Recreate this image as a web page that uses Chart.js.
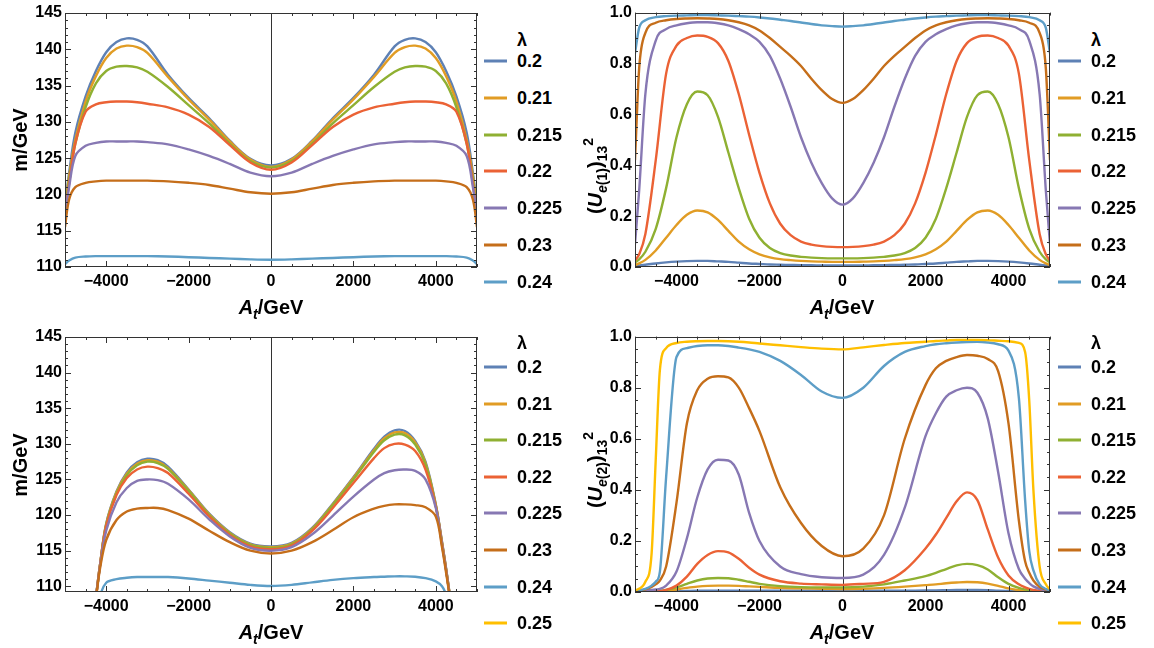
<!DOCTYPE html>
<html>
<head>
<meta charset="utf-8">
<script src="https://cdn.jsdelivr.net/npm/chart.js@4.4.0/dist/chart.umd.min.js"></script>
<style>
  body { margin: 0; background: #fff; width: 1154px; height: 648px; overflow: hidden; position: relative;
         font-family: "Liberation Sans", Arial, sans-serif; font-weight: bold; color: #000; }
  .panel { position: absolute; }
  .panel canvas { display: block; }
  .xt, .yt { position: absolute; font-size: 20px; white-space: nowrap; line-height: 1; }
  .xt { transform: translate(-50%, -50%); }
  .yt { transform: translate(-50%, -50%) rotate(-90deg); }
  sub { font-size: 0.7em; vertical-align: -0.35em; line-height: 0; }
  sup { font-size: 0.7em; vertical-align: 0.65em; line-height: 0; }
  .legend { position: absolute; font-size: 18px; }
  .legend .ttl { position: absolute; transform: translateY(-50%); }
  .legend .row { position: absolute; transform: translateY(-50%); white-space: nowrap; }
  .legend .sw { position: absolute; height: 3px; width: 23px; top: 50%; margin-top: -1.5px; }
</style>
</head>
<body>

<div class="panel" style="left:0;top:0"><canvas id="cA" width="480" height="300"></canvas></div>
<div class="panel" style="left:560px;top:0"><canvas id="cB" width="500" height="300"></canvas></div>
<div class="panel" style="left:0;top:324px"><canvas id="cC" width="480" height="300"></canvas></div>
<div class="panel" style="left:560px;top:324px"><canvas id="cD" width="500" height="300"></canvas></div>

<div class="yt" style="left:20px;top:140px">m/GeV</div>
<div class="yt" style="left:20px;top:465px">m/GeV</div>
<div class="yt" style="left:595px;top:176px">(<i>U</i><sub><i>e</i>(1)</sub>)<sub>13</sub><sup>2</sup></div>
<div class="yt" style="left:595px;top:470px">(<i>U</i><sub><i>e</i>(2)</sub>)<sub>13</sub><sup>2</sup></div>

<div class="xt" style="left:271px;top:307px"><i>A</i><sub><i>t</i></sub>/GeV</div>
<div class="xt" style="left:842px;top:307px"><i>A</i><sub><i>t</i></sub>/GeV</div>
<div class="xt" style="left:271px;top:632px"><i>A</i><sub><i>t</i></sub>/GeV</div>
<div class="xt" style="left:842px;top:632px"><i>A</i><sub><i>t</i></sub>/GeV</div>

<div class="legend" id="lA" style="left:484px;top:0"></div>
<div class="legend" id="lB" style="left:1058px;top:0"></div>
<div class="legend" id="lC" style="left:484px;top:324px"></div>
<div class="legend" id="lD" style="left:1058px;top:324px"></div>

<script>
// ---------- data ----------

const LINE_COLORS = ['#5E81B5', '#E19C24', '#8FB032', '#EB6235', '#8778B3', '#C56E1A', '#5D9EC7', '#FFBF00'];
const LAMBDA_TOP = ['0.2', '0.21', '0.215', '0.22', '0.225', '0.23', '0.24'];
const LAMBDA_BOTTOM = ['0.2', '0.21', '0.215', '0.22', '0.225', '0.23', '0.24', '0.25'];

const X_TICKS = [-4000, -2000, 0, 2000, 4000];
const MASS_TICKS = [110, 115, 120, 125, 130, 135, 140, 145];
const MIX_TICKS = [0, 0.2, 0.4, 0.6, 0.8, 1.0];

// top left: m/GeV vs A_t (first set)
const AT_A = [-5000, -4900, -4750, -4500, -4250, -4000, -3750, -3500, -3250, -3000, -2500, -2000, -1500, -1000, -500, 0,
              500, 1000, 1500, 2000, 2500, 3000, 3250, 3500, 3750, 4000, 4250, 4500, 4750, 4900, 5000];
const MASS_A = [
  [118.5, 123.0, 128.5, 133.5, 137.0, 139.6, 141.0, 141.5, 141.3, 140.4, 136.5, 133.3, 130.5, 127.4, 124.9, 124.0,
   124.9, 127.4, 130.5, 133.3, 136.5, 140.4, 141.3, 141.5, 141.0, 139.6, 137.0, 133.5, 128.5, 123.0, 118.5],
  [118.0, 122.5, 127.5, 132.8, 136.3, 138.8, 140.1, 140.5, 140.3, 139.5, 136.2, 133.1, 130.3, 127.3, 124.8, 123.8,
   124.8, 127.3, 130.3, 133.1, 136.2, 139.5, 140.3, 140.5, 140.1, 138.8, 136.3, 132.8, 127.5, 122.5, 118.0],
  [118.0, 122.0, 127.0, 132.0, 135.3, 137.0, 137.6, 137.7, 137.5, 136.9, 134.8, 132.3, 129.8, 127.0, 124.6, 123.7,
   124.6, 127.0, 129.8, 132.3, 134.8, 136.9, 137.5, 137.7, 137.6, 137.0, 135.3, 132.0, 127.0, 122.0, 118.0],
  [117.5, 121.5, 127.0, 131.4, 132.4, 132.7, 132.8, 132.8, 132.7, 132.5, 132.0, 131.0, 129.3, 126.8, 124.4, 123.4,
   124.4, 126.8, 129.3, 131.0, 132.0, 132.5, 132.7, 132.8, 132.8, 132.7, 132.4, 131.4, 127.0, 121.5, 117.5],
  [117.0, 121.0, 125.3, 126.7, 127.1, 127.3, 127.3, 127.3, 127.3, 127.2, 126.9, 126.2, 125.3, 124.2, 123.0, 122.5,
   123.0, 124.2, 125.3, 126.2, 126.9, 127.2, 127.3, 127.3, 127.3, 127.3, 127.1, 126.7, 125.3, 121.0, 117.0],
  [115.5, 119.3, 121.0, 121.6, 121.8, 121.9, 121.9, 121.9, 121.9, 121.9, 121.8, 121.6, 121.3, 120.8, 120.3, 120.1,
   120.3, 120.8, 121.3, 121.6, 121.8, 121.9, 121.9, 121.9, 121.9, 121.9, 121.8, 121.6, 121.0, 119.3, 115.5],
  [110.4, 110.9, 111.3, 111.45, 111.5, 111.5, 111.5, 111.5, 111.5, 111.5, 111.45, 111.35, 111.25, 111.15, 111.05, 111.0,
   111.05, 111.15, 111.25, 111.35, 111.45, 111.5, 111.5, 111.5, 111.5, 111.5, 111.5, 111.45, 111.3, 110.9, 110.4]
];

// top right: (U_e(1))_13^2
const AT_B = [-5000, -4900, -4750, -4500, -4250, -4000, -3750, -3500, -3250, -3000, -2750, -2500, -2250, -2000, -1750,
              -1500, -1250, -1000, -750, -500, -250, 0, 250, 500, 750, 1000, 1250, 1500, 1750, 2000, 2250, 2500, 2750,
              3000, 3250, 3500, 3750, 4000, 4250, 4500, 4750, 4900, 5000];
const MIX_B = [
  [0.004, 0.006, 0.009, 0.014, 0.018, 0.021, 0.023, 0.024, 0.024, 0.022, 0.02, 0.017, 0.014, 0.012, 0.01, 0.009, 0.008, 0.007, 0.007, 0.006, 0.006, 0.006,
   0.006, 0.006, 0.007, 0.007, 0.008, 0.009, 0.01, 0.012, 0.014, 0.017, 0.02, 0.022, 0.024, 0.024, 0.023, 0.021, 0.018, 0.014, 0.009, 0.006, 0.004],
  [0.008, 0.014, 0.028, 0.065, 0.115, 0.165, 0.205, 0.222, 0.215, 0.185, 0.142, 0.1, 0.07, 0.05, 0.038, 0.031, 0.027, 0.024, 0.022, 0.021, 0.02, 0.02,
   0.02, 0.021, 0.022, 0.024, 0.027, 0.031, 0.038, 0.05, 0.07, 0.1, 0.142, 0.185, 0.215, 0.222, 0.205, 0.165, 0.115, 0.065, 0.028, 0.014, 0.008],
  [0.018, 0.03, 0.06, 0.15, 0.31, 0.51, 0.64, 0.69, 0.675, 0.59, 0.45, 0.31, 0.19, 0.115, 0.075, 0.055, 0.045, 0.04, 0.037, 0.035, 0.034, 0.034,
   0.034, 0.035, 0.037, 0.04, 0.045, 0.055, 0.075, 0.115, 0.19, 0.31, 0.45, 0.59, 0.675, 0.69, 0.64, 0.51, 0.31, 0.15, 0.06, 0.03, 0.018],
  [0.025, 0.05, 0.13, 0.42, 0.76, 0.87, 0.9, 0.91, 0.905, 0.88, 0.81, 0.68, 0.52, 0.37, 0.25, 0.17, 0.125, 0.1, 0.088, 0.082, 0.079, 0.078,
   0.079, 0.082, 0.088, 0.1, 0.125, 0.17, 0.25, 0.37, 0.52, 0.68, 0.81, 0.88, 0.905, 0.91, 0.9, 0.87, 0.76, 0.42, 0.13, 0.05, 0.025],
  [0.09, 0.3, 0.68, 0.89, 0.935, 0.95, 0.958, 0.962, 0.962, 0.958, 0.95, 0.935, 0.915, 0.885, 0.83, 0.74, 0.63, 0.51, 0.41, 0.33, 0.27, 0.245,
   0.27, 0.33, 0.41, 0.51, 0.63, 0.74, 0.83, 0.885, 0.915, 0.935, 0.95, 0.958, 0.962, 0.962, 0.958, 0.95, 0.935, 0.89, 0.68, 0.3, 0.09],
  [0.42, 0.78, 0.92, 0.96, 0.97, 0.975, 0.977, 0.978, 0.977, 0.975, 0.97, 0.962, 0.95, 0.93, 0.9, 0.865, 0.83, 0.79, 0.74, 0.695, 0.66, 0.645,
   0.66, 0.695, 0.74, 0.79, 0.83, 0.865, 0.9, 0.93, 0.95, 0.962, 0.97, 0.975, 0.977, 0.978, 0.977, 0.975, 0.97, 0.96, 0.92, 0.78, 0.42],
  [0.84, 0.94, 0.97, 0.982, 0.986, 0.988, 0.989, 0.99, 0.99, 0.989, 0.988, 0.986, 0.984, 0.981, 0.977, 0.972, 0.967, 0.961, 0.955, 0.95, 0.947, 0.945,
   0.947, 0.95, 0.955, 0.961, 0.967, 0.972, 0.977, 0.981, 0.984, 0.986, 0.988, 0.989, 0.99, 0.99, 0.989, 0.988, 0.986, 0.982, 0.97, 0.94, 0.84]
];

// bottom left: m/GeV vs A_t (second set)
const AT_C = [-4500, -4250, -4150, -4000, -3750, -3500, -3250, -3000, -2750, -2500, -2000, -1500, -1000, -500, 0,
              500, 1000, 1500, 2000, 2500, 2750, 3000, 3250, 3500, 3750, 4000, 4150, 4250, 4350, 4500];
const MASS_C = [
  [99, 108.5, 113.0, 118.8, 123.3, 126.0, 127.4, 127.9, 127.7, 126.8, 123.6, 120.2, 117.6, 116.0, 115.6,
   116.1, 118.2, 121.6, 125.3, 129.3, 131.0, 131.9, 131.8, 130.4, 127.5, 121.5, 116.3, 112.5, 108.3, 101],
  [99, 108.5, 113.0, 118.7, 123.2, 125.8, 127.2, 127.7, 127.5, 126.6, 123.5, 120.1, 117.5, 115.9, 115.5,
   116.0, 118.1, 121.5, 125.2, 129.1, 130.8, 131.6, 131.5, 130.2, 127.3, 121.4, 116.2, 112.4, 108.2, 101],
  [99, 108.5, 113.0, 118.6, 123.0, 125.6, 127.0, 127.5, 127.3, 126.5, 123.4, 120.0, 117.4, 115.8, 115.4,
   115.9, 118.0, 121.4, 125.0, 128.9, 130.5, 131.3, 131.2, 129.9, 127.1, 121.3, 116.1, 112.4, 108.2, 101],
  [99, 108.5, 113.0, 118.5, 122.8, 125.2, 126.4, 126.8, 126.6, 125.9, 123.0, 119.8, 117.2, 115.6, 115.2,
   115.7, 117.8, 121.0, 124.5, 128.0, 129.4, 130.0, 129.9, 129.0, 126.4, 121.2, 116.0, 112.3, 108.2, 101],
  [99, 108.5, 112.8, 117.8, 121.8, 123.8, 124.8, 125.0, 124.9, 124.4, 122.2, 119.4, 117.0, 115.4, 115.0,
   115.5, 117.3, 119.9, 122.6, 125.0, 125.9, 126.3, 126.4, 126.2, 125.0, 121.0, 115.8, 112.2, 108.1, 101],
  [99, 108.3, 112.5, 116.5, 119.3, 120.5, 120.9, 121.0, 121.0, 120.7, 119.5, 117.8, 116.2, 115.0, 114.6,
   115.0, 116.2, 117.9, 119.7, 120.9, 121.3, 121.5, 121.5, 121.4, 121.1, 119.8, 115.5, 111.9, 108.0, 101],
  [96, 103, 108.5, 110.5, 111.0, 111.2, 111.3, 111.3, 111.3, 111.3, 111.1, 110.8, 110.5, 110.2, 110.05,
   110.2, 110.55, 110.9, 111.15, 111.3, 111.35, 111.4, 111.4, 111.35, 111.15, 110.7, 110.0, 108.8, 106, 100]
];

// bottom right: (U_e(2))_13^2
const AT_D = [-5000, -4750, -4600, -4500, -4400, -4250, -4000, -3750, -3500, -3250, -3000, -2750, -2500, -2250, -2000,
              -1500, -1000, -500, 0, 500, 1000, 1500, 2000, 2250, 2500, 2750, 3000, 3250, 3500, 3750, 4000,
              4250, 4400, 4500, 4600, 4750, 4900, 5000];
const MIX_D = [
  [0.001, 0.001, 0.002, 0.002, 0.002, 0.003, 0.003, 0.004, 0.005, 0.005, 0.005, 0.005, 0.005, 0.005, 0.005, 0.005, 0.005, 0.005, 0.005,
   0.005, 0.005, 0.005, 0.006, 0.006, 0.007, 0.008, 0.008, 0.008, 0.007, 0.005, 0.004, 0.003, 0.002, 0.002, 0.001, 0.001, 0.001, 0.001],
  [0.001, 0.002, 0.002, 0.003, 0.003, 0.005, 0.01, 0.016, 0.021, 0.024, 0.025, 0.025, 0.024, 0.022, 0.02, 0.016, 0.014, 0.013, 0.012,
   0.013, 0.016, 0.021, 0.027, 0.03, 0.034, 0.037, 0.039, 0.038, 0.033, 0.024, 0.014, 0.007, 0.005, 0.004, 0.003, 0.002, 0.001, 0.001],
  [0.001, 0.002, 0.003, 0.004, 0.005, 0.008, 0.018, 0.032, 0.045, 0.053, 0.055, 0.054, 0.048, 0.04, 0.032, 0.023, 0.019, 0.018, 0.018,
   0.021, 0.03, 0.045, 0.062, 0.075, 0.09, 0.104, 0.11, 0.105, 0.088, 0.058, 0.032, 0.016, 0.01, 0.007, 0.005, 0.003, 0.002, 0.001],
  [0.001, 0.002, 0.003, 0.004, 0.004, 0.008, 0.025, 0.06, 0.11, 0.145, 0.16, 0.155, 0.13, 0.095, 0.068, 0.042, 0.033, 0.03, 0.028,
   0.032, 0.04, 0.085, 0.17, 0.225, 0.29, 0.355, 0.39, 0.36, 0.245, 0.135, 0.065, 0.03, 0.018, 0.012, 0.008, 0.004, 0.002, 0.002],
  [0.002, 0.005, 0.008, 0.01, 0.012, 0.025, 0.08, 0.21, 0.37, 0.48, 0.518, 0.515, 0.46, 0.31, 0.2, 0.1, 0.07, 0.058, 0.055,
   0.068, 0.145, 0.33, 0.61, 0.7, 0.765, 0.79, 0.8, 0.78, 0.68, 0.47, 0.23, 0.09, 0.052, 0.035, 0.022, 0.012, 0.006, 0.004],
  [0.003, 0.01, 0.02, 0.03, 0.045, 0.1, 0.35, 0.66, 0.79, 0.835, 0.845, 0.84, 0.8, 0.72, 0.63, 0.41, 0.27, 0.18, 0.14,
   0.17, 0.3, 0.6, 0.81, 0.876, 0.905, 0.92, 0.928, 0.925, 0.912, 0.865, 0.66, 0.28, 0.12, 0.075, 0.045, 0.02, 0.01, 0.006],
  [0.004, 0.012, 0.025, 0.04, 0.08, 0.45, 0.92, 0.955, 0.963, 0.966, 0.966, 0.963, 0.957, 0.95, 0.94, 0.905, 0.85, 0.785, 0.76,
   0.8, 0.885, 0.94, 0.963, 0.97, 0.974, 0.977, 0.979, 0.98, 0.977, 0.97, 0.945, 0.76, 0.36, 0.16, 0.085, 0.03, 0.012, 0.006],
  [0.005, 0.04, 0.15, 0.52, 0.87, 0.955, 0.975, 0.98, 0.982, 0.983, 0.983, 0.982, 0.98, 0.977, 0.973, 0.966, 0.959, 0.953, 0.95,
   0.958, 0.967, 0.975, 0.98, 0.983, 0.985, 0.987, 0.987, 0.987, 0.986, 0.984, 0.982, 0.975, 0.94, 0.75, 0.4, 0.1, 0.03, 0.01]
];

// ---------- drawing ----------

const TICK_FONT = { family: '"Liberation Sans", Arial, sans-serif', size: 16, weight: 'bold' };

// Mathematica style frame: box, inward ticks, and the A_t = 0 axis line
const framePlugin = {
  id: 'frame',
  beforeDatasetsDraw(chart) {
    const { ctx, chartArea: a, scales: { x } } = chart;
    const x0 = Math.round(x.getPixelForValue(0)) + 0.5;
    ctx.save();
    ctx.strokeStyle = '#333';
    ctx.lineWidth = 1;
    ctx.beginPath();
    ctx.moveTo(x0, a.top);
    ctx.lineTo(x0, a.bottom);
    ctx.stroke();
    ctx.restore();
  },
  afterDatasetsDraw(chart, args, opts) {
    const { ctx, chartArea: a, scales: { x, y } } = chart;
    ctx.save();
    ctx.strokeStyle = '#333';
    ctx.lineWidth = 1;
    ctx.strokeRect(Math.round(a.left) + 0.5, Math.round(a.top) + 0.5,
                   Math.round(a.right - a.left) - 1, Math.round(a.bottom - a.top) - 1);

    ctx.beginPath();
    const tickX = (v, len) => {
      const p = Math.round(x.getPixelForValue(v)) + 0.5;
      ctx.moveTo(p, a.bottom); ctx.lineTo(p, a.bottom - len);
      ctx.moveTo(p, a.top); ctx.lineTo(p, a.top + len);
    };
    const tickY = (v, len) => {
      const p = Math.round(y.getPixelForValue(v)) + 0.5;
      ctx.moveTo(a.left, p); ctx.lineTo(a.left + len, p);
      ctx.moveTo(a.right, p); ctx.lineTo(a.right - len, p);
    };
    for (let v = -5000; v <= 5000; v += 500) {
      tickX(v, X_TICKS.includes(v) ? 6 : 3);
    }
    const steps = Math.round((opts.yTo - opts.yFrom) / opts.yStep);
    for (let i = 0; i <= steps; i++) {
      const v = opts.yFrom + i * opts.yStep;
      const major = opts.yMajor.some(m => Math.abs(m - v) < 1e-9);
      tickY(v, major ? 6 : 3);
    }
    ctx.stroke();
    ctx.restore();
  }
};

function makePanel(id, xs, rows, labels, o) {
  const datasets = rows.map((ys, i) => ({
    label: labels[i],
    data: xs.map((x, k) => ({ x: x, y: ys[k] })),
    borderColor: LINE_COLORS[i],
    borderWidth: 2.4,
    pointRadius: 0,
    fill: false,
    // the mass curves are gentle enough for a plain spline, the mixings need monotone
    cubicInterpolationMode: o.smooth ? 'default' : 'monotone',
    tension: o.smooth ? 0.35 : 0,
    order: -i
  }));

  new Chart(document.getElementById(id), {
    type: 'line',
    data: { datasets: datasets },
    plugins: [framePlugin],
    options: {
      responsive: false,
      animation: false,
      devicePixelRatio: 1,
      layout: { padding: { top: o.padTop, right: o.padRight, left: 0, bottom: 0 } },
      plugins: {
        legend: { display: false },
        tooltip: { enabled: false },
        frame: { yFrom: o.yTicks[0], yTo: o.yTicks[o.yTicks.length - 1], yStep: o.yStep, yMajor: o.yTicks }
      },
      scales: {
        x: {
          type: 'linear',
          min: -5000,
          max: 5000,
          afterBuildTicks: s => { s.ticks = X_TICKS.map(v => ({ value: v })); },
          afterFit: s => { s.height = o.xHeight; },
          grid: { display: false, drawTicks: false },
          border: { display: false },
          ticks: {
            padding: 5,
            color: '#000',
            font: TICK_FONT,
            maxRotation: 0,
            autoSkip: false,
            callback: v => String(v).replace('-', '\u2212')
          }
        },
        y: {
          type: 'linear',
          min: o.yMin,
          max: o.yMax,
          afterBuildTicks: s => { s.ticks = o.yTicks.map(v => ({ value: v })); },
          afterFit: s => { s.width = o.yWidth; },
          grid: { display: false, drawTicks: false },
          border: { display: false },
          ticks: {
            padding: 3,
            color: '#000',
            font: TICK_FONT,
            autoSkip: false,
            callback: o.yFormat
          }
        }
      }
    }
  });
}

function makeLegend(id, labels, titleY, firstY, step) {
  const el = document.getElementById(id);
  let html = '<div class="ttl" style="left:33px;top:' + titleY + 'px">\u03bb</div>';
  labels.forEach((lab, i) => {
    html += '<div class="row" style="left:0;top:' + (firstY + i * step) + 'px">' +
            '<span class="sw" style="left:0;background:' + LINE_COLORS[i] + '"></span>' +
            '<span style="margin-left:33px">' + lab + '</span></div>';
  });
  el.innerHTML = html;
}

const massFmt = v => String(v);
const mixFmt = v => v.toFixed(1);

makePanel('cA', AT_A, MASS_A, LAMBDA_TOP,
  { padTop: 13, padRight: 3, xHeight: 33, yWidth: 65, yMin: 110, yMax: 145, yTicks: MASS_TICKS, yStep: 1, yFormat: massFmt, smooth: true });
makePanel('cB', AT_B, MIX_B, LAMBDA_TOP,
  { padTop: 11, padRight: 10, xHeight: 33, yWidth: 75, yMin: 0, yMax: 1, yTicks: MIX_TICKS, yStep: 0.05, yFormat: mixFmt, smooth: false });
makePanel('cC', AT_C, MASS_C, LAMBDA_BOTTOM,
  { padTop: 13, padRight: 3, xHeight: 32, yWidth: 65, yMin: 109.2, yMax: 145, yTicks: MASS_TICKS, yStep: 1, yFormat: massFmt, smooth: true });
makePanel('cD', AT_D, MIX_D, LAMBDA_BOTTOM,
  { padTop: 12, padRight: 10, xHeight: 32, yWidth: 75, yMin: 0, yMax: 1, yTicks: MIX_TICKS, yStep: 0.05, yFormat: mixFmt, smooth: false });

makeLegend('lA', LAMBDA_TOP, 40, 61, 36.8);
makeLegend('lB', LAMBDA_TOP, 40, 61, 36.8);
makeLegend('lC', LAMBDA_BOTTOM, 19, 43, 36.6);
makeLegend('lD', LAMBDA_BOTTOM, 19, 43, 36.6);
</script>
</body>
</html>
